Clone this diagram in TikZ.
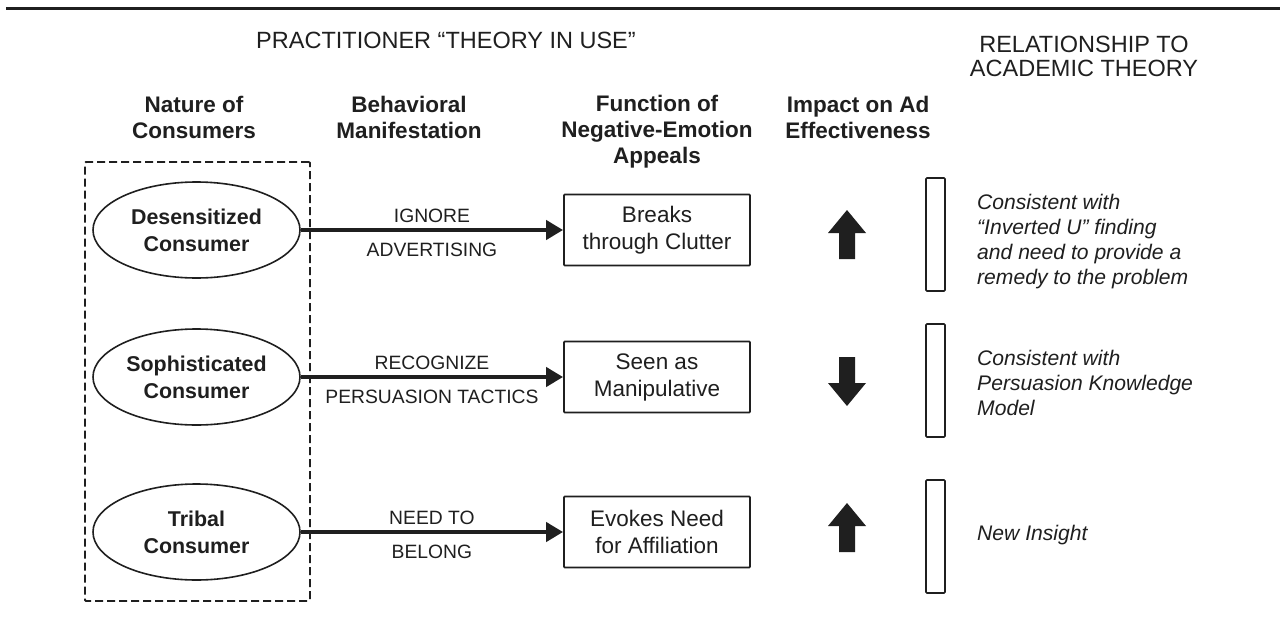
\documentclass[tikz,border=0pt]{standalone}
\usepackage{fontspec}
\setmainfont{Liberation Sans}
\usetikzlibrary{arrows.meta,shapes.geometric}
\definecolor{ink}{gray}{0.12}
\begin{document}
\begin{tikzpicture}[x=1pt,y=-1pt,
  every node/.style={text=ink},
  ttl/.style={font=\fontsize{23.5}{24}\selectfont, align=center, inner sep=0pt},
  hdr/.style={font=\fontsize{22.5}{26}\selectfont\bfseries, align=center, inner sep=0pt},
  group/.style={draw=ink, line width=1.8pt, dash pattern=on 8pt off 4pt, rounded corners=1pt, inner sep=0pt},
  consumer/.style={ellipse, draw=ink, line width=1.6pt, minimum width=207pt, minimum height=96pt,
    inner sep=0pt, font=\fontsize{21.4}{27}\selectfont\bfseries, align=center},
  func/.style={rectangle, draw=ink, line width=1.8pt, rounded corners=0.8pt, minimum width=186pt,
    minimum height=71pt, inner sep=0pt, font=\fontsize{22.5}{27}\selectfont, align=center},
  lbl/.style={font=\fontsize{19.3}{22}\selectfont, inner sep=0pt},
  flow/.style={draw=ink, line width=4pt, -{Triangle[length=17pt, width=19pt]}},
  bar/.style={draw=ink, line width=1.6pt, rounded corners=1pt, minimum width=19pt, minimum height=113pt, inner sep=0pt},
  note/.style={font=\fontsize{21.1}{25}\selectfont\itshape, align=left, anchor=west, inner sep=0pt},
  rise/.pic={\fill[ink] (0,-24.5) -- (19,-1.5) -- (8,-1.5) -- (8,24.5) -- (-8,24.5) -- (-8,-1.5) -- (-19,-1.5) -- cycle;}
]
\useasboundingbox (0,0) rectangle (1280,634);
\fill[white] (0,0) rectangle (1280,634);

% rule across the top
\draw[ink, line width=3pt] (6,9) -- (1280,9);

% section titles
\node[ttl] (practice) at (446,40) {PRACTITIONER “THEORY IN USE”};
\node[ttl] (academic) at (1084,56) {RELATIONSHIP TO\\ACADEMIC THEORY};

% column headers
\node[hdr] (hnature)   at (194,117) {Nature of\\Consumers};
\node[hdr] (hbehave)   at (409,117) {Behavioral\\Manifestation};
\node[hdr] (hfunction) at (657,132) {Function of\\Negative-Emotion\\Appeals};
\node[hdr] (himpact)   at (858,117) {Impact on Ad\\Effectiveness};

% consumer types, grouped in a dashed frame
\node[group, minimum width=225pt, minimum height=439pt] (grp) at (197.5,381.5) {};
\node[consumer] (c1) at (196.5,230) {Desensitized\\Consumer};
\node[consumer] (c2) at (196.5,377) {Sophisticated\\Consumer};
\node[consumer] (c3) at (196.5,532) {Tribal\\Consumer};

% function of the appeals
\node[func] (f1) at (657,230) {Breaks\\through Clutter};
\node[func] (f2) at (657,377) {Seen as\\Manipulative};
\node[func] (f3) at (657,532) {Evokes Need\\for Affiliation};

% behavioural manifestation on the connectors
\draw[flow] (c1) -- (f1)
  node[lbl, midway, yshift=14pt] (m1a) {IGNORE}
  node[lbl, midway, yshift=-19.5pt] (m1b) {ADVERTISING};
\draw[flow] (c2) -- (f2)
  node[lbl, midway, yshift=14pt] (m2a) {RECOGNIZE}
  node[lbl, midway, yshift=-19.5pt] (m2b) {PERSUASION TACTICS};
\draw[flow] (c3) -- (f3)
  node[lbl, midway, yshift=14pt] (m3a) {NEED TO}
  node[lbl, midway, yshift=-19.5pt] (m3b) {BELONG};

% impact on ad effectiveness
\pic at (847,234.5) {rise};
\pic[rotate=180] at (847,381.5) {rise};
\pic at (847,527.5) {rise};

% relationship to academic theory
\node[bar] (b1) at (935.5,234.5) {};
\node[bar] (b2) at (935.5,380.5) {};
\node[bar] (b3) at (935.5,536.5) {};
\node[note] (t1) at (977,241.5) {Consistent with\\“Inverted U” finding\\and need to provide a\\remedy to the problem};
\node[note] (t2) at (977,383) {Consistent with\\Persuasion Knowledge\\Model};
\node[note] (t3) at (977,535) {New Insight};
\end{tikzpicture}
\end{document}
